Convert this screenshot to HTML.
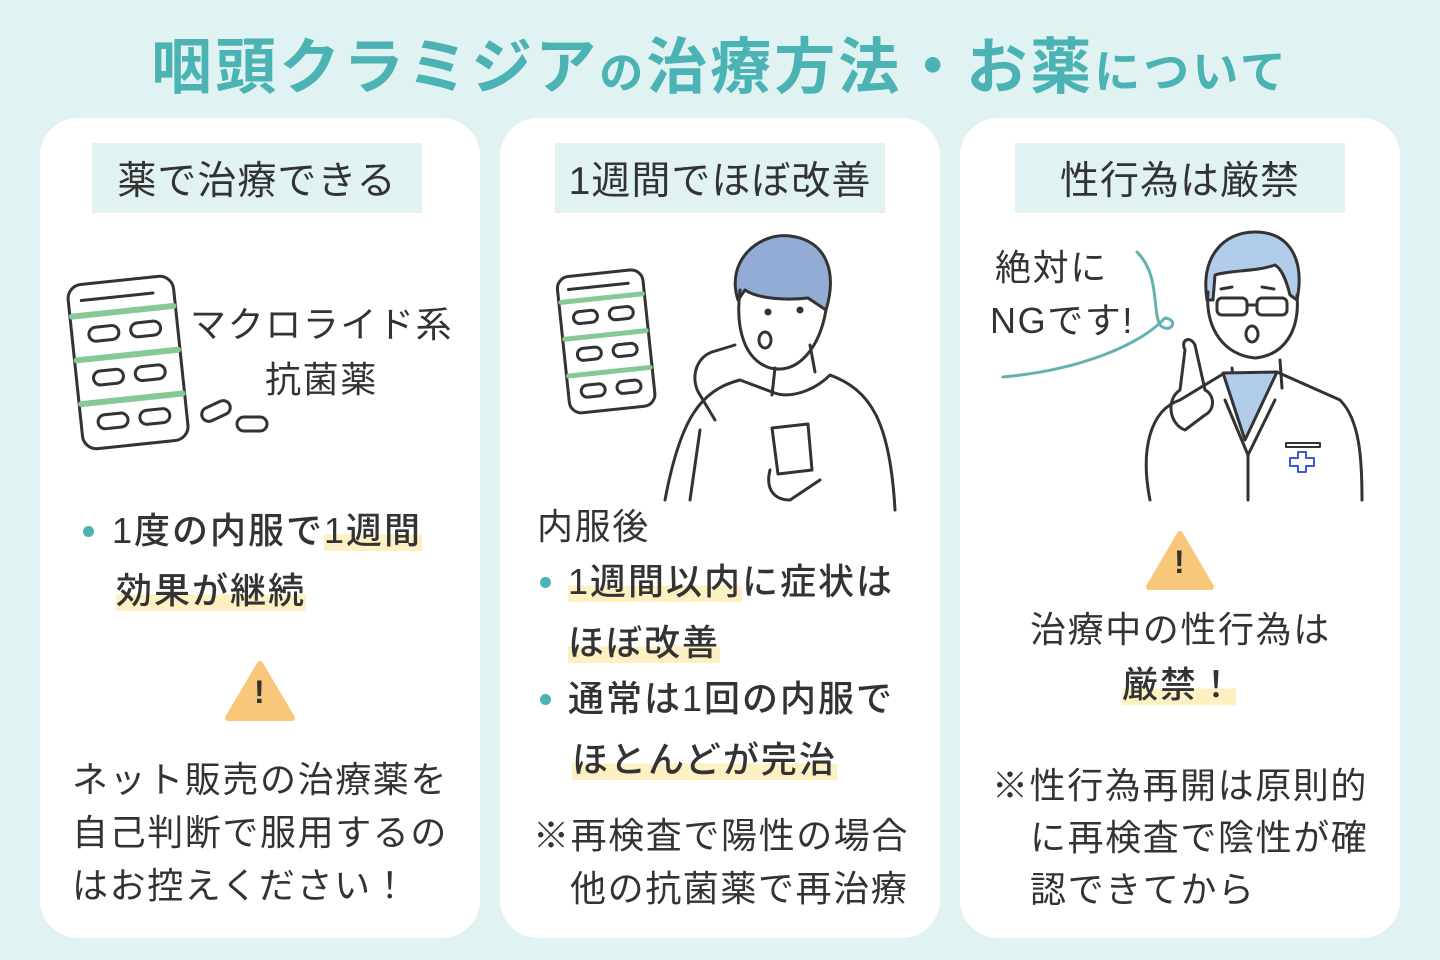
<!DOCTYPE html>
<html><head><meta charset="utf-8"><style>
*{margin:0;padding:0;box-sizing:border-box}
body{width:1440px;height:960px;background:#e1f2f2;position:relative;overflow:hidden;font-family:"Liberation Sans","Noto Sans CJK JP",sans-serif;color:#333}
.t{position:absolute;white-space:nowrap;line-height:1}
.card{position:absolute;top:118px;width:440px;height:820px;background:#fff;border-radius:38px}
.hd{position:absolute;top:143px;height:70px;background:#e1f2f2;font-size:39px;letter-spacing:1px;display:flex;align-items:center;justify-content:center;color:#333}
.b{font-size:36px;font-weight:500;letter-spacing:2px}
.hl{background:linear-gradient(transparent 60%,#fdf0c2 60%)}
.dot{position:absolute;width:11px;height:11px;border-radius:50%;background:#4bb3b3}
.s34{font-size:36px;letter-spacing:1.6px}
</style></head><body>
<div class="t" style="left:0;width:1440px;text-align:center;top:37px;font-size:61px;font-weight:bold;color:#4bb3b3;letter-spacing:3px">咽頭クラミジア<span style="font-size:44px">の</span>治療方法・お薬<span style="font-size:46px">について</span></div>

<div class="card" style="left:40px"></div>
<div class="card" style="left:500px"></div>
<div class="card" style="left:960px"></div>
<div class="hd" style="left:92px;width:330px">薬で治療できる</div>
<div class="hd" style="left:555px;width:330px">1週間でほぼ改善</div>
<div class="hd" style="left:1015px;width:330px">性行為は厳禁</div>

<svg width="1440" height="960" style="position:absolute;left:0;top:0" fill="none" stroke="#333" stroke-width="3" stroke-linecap="round" stroke-linejoin="round">
<g transform="rotate(-6 128 362)">
<rect x="75" y="280" width="106" height="165" rx="14"/>
<line x1="88" y1="296" x2="160" y2="296"/>
<line x1="77" y1="311" x2="179" y2="311" stroke="#86c997" stroke-width="6"/>
<line x1="77" y1="355" x2="179" y2="355" stroke="#86c997" stroke-width="6"/>
<line x1="77" y1="399" x2="179" y2="399" stroke="#86c997" stroke-width="6"/>
<rect x="92" y="324" width="30" height="14" rx="7"/><rect x="134" y="324" width="30" height="14" rx="7"/>
<rect x="92" y="368" width="30" height="14" rx="7"/><rect x="134" y="368" width="30" height="14" rx="7"/>
<rect x="92" y="412" width="30" height="14" rx="7"/><rect x="134" y="412" width="30" height="14" rx="7"/>
</g>
<rect x="201" y="404" width="30" height="14" rx="7" transform="rotate(-25 216 411)"/>
<rect x="237" y="417" width="30" height="14" rx="7"/>
<g transform="rotate(-6 605 340)">
<rect x="563" y="273" width="86" height="137" rx="12"/>
<line x1="574" y1="286" x2="634" y2="286"/>
<line x1="565" y1="298" x2="647" y2="298" stroke="#86c997" stroke-width="5"/>
<line x1="565" y1="335" x2="647" y2="335" stroke="#86c997" stroke-width="5"/>
<line x1="565" y1="372" x2="647" y2="372" stroke="#86c997" stroke-width="5"/>
<rect x="576" y="309" width="24" height="12" rx="6"/><rect x="612" y="309" width="24" height="12" rx="6"/>
<rect x="576" y="346" width="24" height="12" rx="6"/><rect x="612" y="346" width="24" height="12" rx="6"/>
<rect x="576" y="383" width="24" height="12" rx="6"/><rect x="612" y="383" width="24" height="12" rx="6"/>
</g>
<!-- man -->
<path d="M738 300 C725 260 760 232 790 236 C825 240 838 270 826 310 L808 298 C790 300 760 300 745 290 Z" fill="#93acd6"/>
<path d="M740 290 C735 330 745 360 770 368 C800 375 820 345 826 310"/>
<path d="M775 368 L772 395 M810 345 L815 372"/>
<path d="M665 500 C680 420 700 390 740 380 L772 392 C790 400 815 390 830 375 C870 390 890 420 895 510"/>
<path d="M735 345 L712 352 C695 358 690 380 700 395 L715 420"/>
<path d="M690 500 L700 430"/>
<path d="M772 428 L808 424 L812 470 L778 474 Z"/>
<path d="M770 470 C765 490 775 500 790 500 L820 480"/>
<circle cx="768" cy="312" r="2" fill="#333"/><circle cx="800" cy="310" r="2" fill="#333"/>
<ellipse cx="765" cy="340" rx="6" ry="8"/>
<!-- doctor -->
<path d="M1207 300 C1200 255 1225 232 1255 232 C1290 232 1305 260 1297 300 L1290 295 C1285 275 1280 268 1275 265 C1255 272 1230 270 1215 275 L1213 300 Z" fill="#b2cdea"/>
<path d="M1208 292 C1205 330 1225 355 1255 358 C1285 355 1300 330 1297 295"/>
<path d="M1221 289 L1232 287 M1262 287 L1274 289"/>
<path d="M1232 368 L1235 393 M1280 360 L1282 388"/>
<path d="M1223 373 L1245 440 L1277 372 Z" fill="#b2cdea"/>
<rect x="1217" y="298" width="30" height="17" rx="5"/><rect x="1257" y="298" width="30" height="17" rx="5"/>
<line x1="1247" y1="305" x2="1257" y2="305"/>
<ellipse cx="1252" cy="334" rx="6" ry="8"/>
<path d="M1150 500 C1140 450 1150 410 1180 400 L1223 374 M1277 372 L1340 400 C1360 420 1362 460 1362 500"/>
<path d="M1248 500 L1248 455 L1225 400 M1248 455 L1275 400"/>
<path d="M1185 350 C1180 340 1190 335 1195 345 L1205 390 C1215 395 1215 410 1205 415 L1185 430 C1170 425 1165 400 1180 390 Z"/>
<rect x="1286" y="443" width="34" height="4" stroke-width="2"/>
<path d="M1290 458 h8v-6h8v6h8v8h-8v6h-8v-6h-8z" stroke="#3b5bd6" stroke-width="2"/>
<path d="M1137 252 C1160 275 1152 310 1160 325 C1170 335 1180 320 1165 318 C1140 345 1080 370 1003 377" stroke="#62b2b2" stroke-width="3"/>
<path d="M260 664 L292 718 L228 718 Z" fill="#f8c77a" stroke="#f8c77a" stroke-width="6"/>
<path d="M1180 534 L1211 587 L1149 587 Z" fill="#f8c77a" stroke="#f8c77a" stroke-width="6"/>
</svg>
<div class="t" style="left:254px;top:676px;font-size:32px;font-weight:bold;color:#333">!</div>
<div class="t" style="left:1174px;top:546px;font-size:32px;font-weight:bold;color:#333">!</div>

<div class="t s34" style="left:190px;top:307px">マクロライド系</div>
<div class="t s34" style="left:265px;top:362px">抗菌薬</div>
<div class="dot" style="left:83px;top:526px"></div>
<div class="t b" style="left:112px;top:513px">1度の内服で<span class="hl">1週間</span></div>
<div class="t b" style="left:116px;top:573px"><span class="hl">効果が継続</span></div>
<div class="t s34" style="left:72px;top:762px">ネット販売の治療薬を</div>
<div class="t s34" style="left:72px;top:815px">自己判断で服用するの</div>
<div class="t s34" style="left:72px;top:868px">はお控えください！</div>

<div class="t s34" style="left:537px;top:509px">内服後</div>
<div class="dot" style="left:540px;top:577px"></div>
<div class="t b" style="left:568px;top:564px"><span class="hl">1週間以内</span>に症状は</div>
<div class="t b" style="left:568px;top:625px"><span class="hl">ほぼ改善</span></div>
<div class="dot" style="left:540px;top:694px"></div>
<div class="t b" style="left:568px;top:681px">通常は1回の内服で</div>
<div class="t b" style="left:572px;top:742px"><span class="hl">ほとんどが完治</span></div>
<div class="t s34" style="left:533px;top:818px">※再検査で陽性の場合</div>
<div class="t s34" style="left:570px;top:871px">他の抗菌薬で再治療</div>

<div class="t s34" style="left:995px;top:250px">絶対に</div>
<div class="t s34" style="left:990px;top:303px">NGです!</div>
<div class="t s34" style="left:1030px;top:612px">治療中の性行為は</div>
<div class="t b" style="left:1122px;top:667px"><span class="hl">厳禁！</span></div>
<div class="t s34" style="left:992px;top:768px">※性行為再開は原則的</div>
<div class="t s34" style="left:1030px;top:820px">に再検査で陰性が確</div>
<div class="t s34" style="left:1030px;top:872px">認できてから</div>
</body></html>
